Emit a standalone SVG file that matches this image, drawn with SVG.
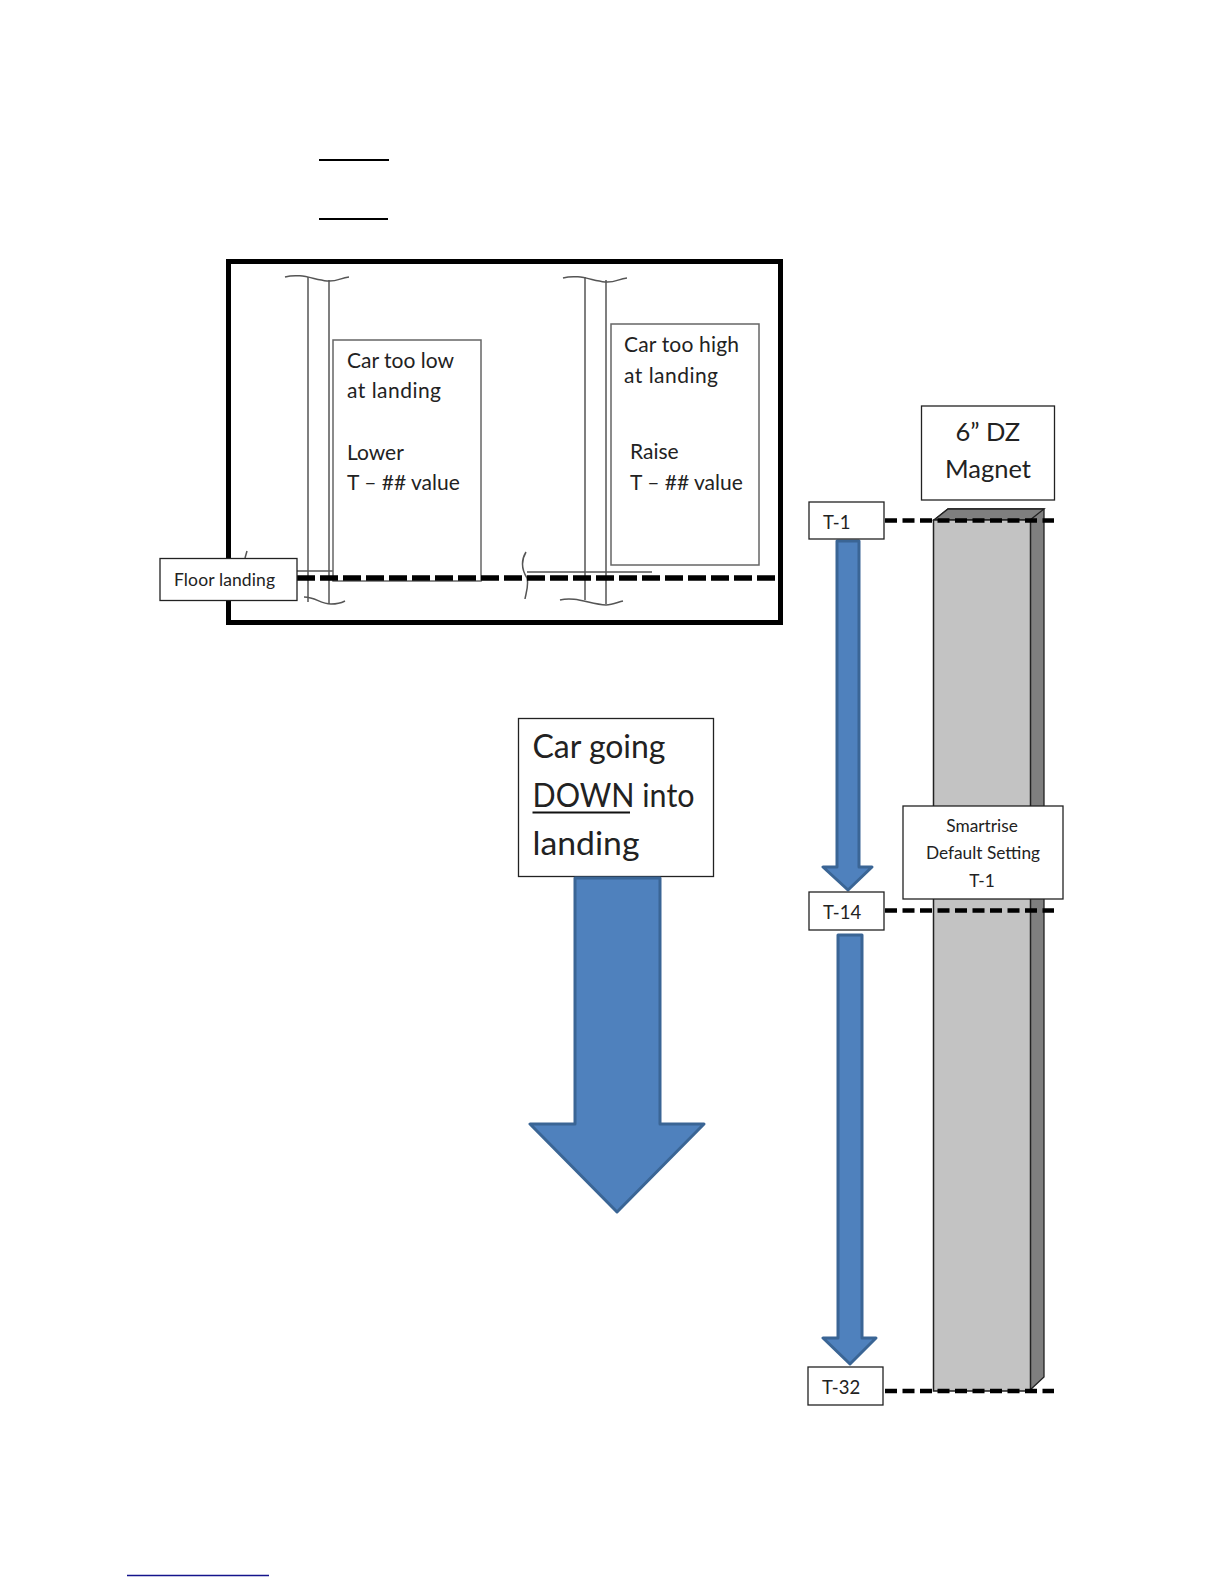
<svg xmlns="http://www.w3.org/2000/svg" width="1224" height="1584" viewBox="0 0 1224 1584">
<style>
text{font-family:"Lato","Open Sans","Liberation Sans",sans-serif;fill:#222}
.box{fill:#fff;stroke:#222;stroke-width:1.3}
.gbox{fill:#fff;stroke:#666;stroke-width:1.5}
.dash{fill:none;stroke:#000;stroke-width:4.500;stroke-dasharray:12 5.500}
.thin{fill:none;stroke:#555;stroke-width:1.500}
.arrow{fill:#4f81bd;stroke:#3a6595;stroke-width:3;stroke-linejoin:round}
.s{font-size:21px}.m{font-size:17.500px}.t{font-size:18.500px}.n{font-size:17.300px}.l{font-size:25.500px}.xl{font-size:32px}
</style>
<rect width="1224" height="1584" fill="#fff"/>
<g id="rules"><path d="M319 160H389M319 219H388" stroke="#000" stroke-width="2" fill="none"/><path d="M127 1575.500H269" stroke="#14148c" stroke-width="1.500" fill="none"/></g>
<g id="frame"><rect x="228.500" y="261.500" width="552" height="361" fill="#fff" stroke="#000" stroke-width="5"/></g>
<g id="shaft-left"><path class="thin" d="M308 277V602M329 280V604"/><path class="thin" d="M285 277C300 273 312 279 327 281C337 282 340 278 349 277M304 597C316 597 320 604 331 604C340 604 343 602 345 601M247 551L245 558M297 571H379" /></g>
<g id="shaft-right"><path class="thin" d="M585 277V600M606 280V604"/><path class="thin" d="M563 278C578 274 590 280 605 282C615 283 618 279 627 278M560 600C575 596 590 604 606 605C613 605 618 602 623 601M526 552C520 562 522 570 527 578C529 585 526 593 525 599M527 572H652"/></g>
<g id="note-low"><rect class="gbox" x="333" y="340" width="148" height="241"/><text class="s" x="347" y="368">Car too low</text><text class="s" x="347" y="398" textLength="94">at landing</text><text class="s" x="347" y="460">Lower</text><text class="s" x="347" y="490">T – ## value</text></g>
<g id="note-high"><rect class="gbox" x="611" y="324" width="148" height="241"/><text class="s" x="624" y="352" textLength="115">Car too high</text><text class="s" x="624" y="383" textLength="94">at landing</text><text class="s" x="630" y="459">Raise</text><text class="s" x="630" y="490">T – ## value</text></g>
<g id="connectors"><path d="M297 578H776" fill="none" stroke="#000" stroke-width="5.500" stroke-dasharray="18 5"/></g>
<g id="floor-landing"><rect class="box" x="160" y="558.500" width="137" height="42"/><text class="m" x="174" y="586" textLength="101">Floor landing</text></g>
<g id="car-note"><rect class="box" x="518.500" y="718.500" width="195" height="158"/><text class="xl" x="532.500" y="758" textLength="133">Car going</text><text class="xl" x="532.500" y="807" textLength="162" lengthAdjust="spacingAndGlyphs">DOWN into</text><text class="xl" x="532.500" y="855" textLength="107" lengthAdjust="spacingAndGlyphs">landing</text><path d="M532.500 812.500H630" stroke="#111" stroke-width="2"/></g>
<g id="big-arrow"><path class="arrow" d="M575 878H660V1124H704L617 1212L530 1124H575Z"/></g>
<g id="magnet"><path d="M934 520L948 509H1044V1377L1030 1390H934Z" fill="#7f7f7f" stroke="#222" stroke-width="1.300"/><path d="M934 520L948 509H1044L1030 520Z" fill="#7f7f7f" stroke="#222" stroke-width="1.300"/><rect x="933.500" y="520" width="97" height="871" fill="#c3c3c3" stroke="#222" stroke-width="1.500"/></g>
<g id="magnet-title"><rect class="box" x="921.500" y="406" width="133" height="94"/><text class="l" x="955.500" y="441">6” DZ</text><text class="l" x="945" y="478">Magnet</text></g>
<g id="arrow-1"><path class="arrow" d="M837 541H859V867H872L848 890L823 867H837Z"/></g>
<g id="arrow-2"><path class="arrow" d="M838 935H862V1338H876L850 1364L823 1338H838Z"/></g>
<g id="connectors-levels"><path class="dash" d="M885 520.500H1054M885 910.500H1054M885 1391H1054"/></g>
<g id="t1"><rect class="box" x="809" y="502" width="75" height="37"/><text class="t" x="823" y="529">T-1</text></g>
<g id="t14"><rect class="box" x="809" y="892" width="75" height="38"/><text class="t" x="823" y="919">T-14</text></g>
<g id="t32"><rect class="box" x="808" y="1367" width="75" height="38"/><text class="t" x="822" y="1394">T-32</text></g>
<g id="default-note"><rect class="box" x="903" y="806" width="160" height="93"/><text class="n" x="982" y="832" text-anchor="middle">Smartrise</text><text class="n" x="983" y="859" text-anchor="middle">Default Setting</text><text class="n" x="982" y="887" text-anchor="middle">T-1</text></g>
</svg>
